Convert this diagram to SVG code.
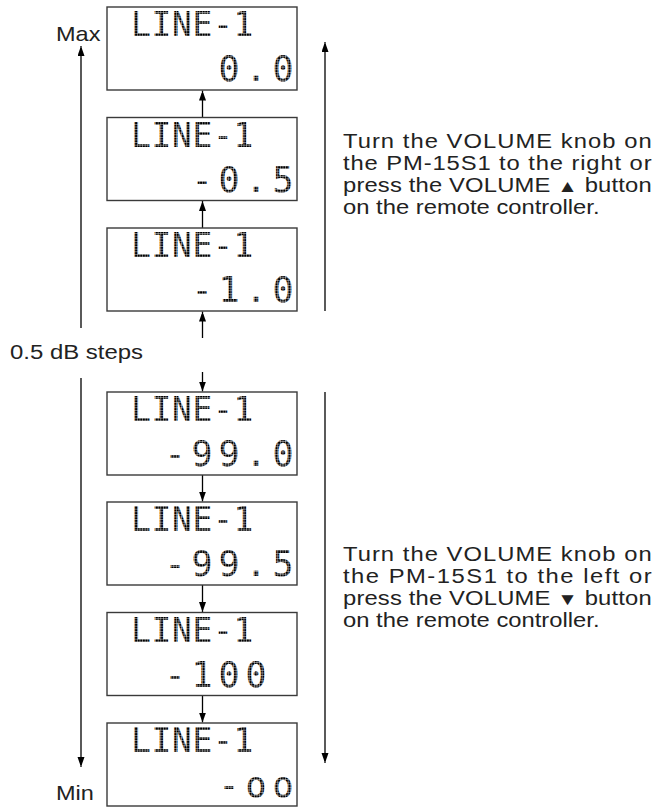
<svg xmlns="http://www.w3.org/2000/svg" width="655" height="807" viewBox="0 0 655 807">
<defs>
<marker id="ah" markerUnits="userSpaceOnUse" markerWidth="8" markerHeight="11" refX="10" refY="3.5" orient="auto">
<path d="M0,0 L10,3.5 L0,7 Z" fill="#000"/>
</marker>
<pattern id="dots" patternUnits="userSpaceOnUse" width="2.6" height="2.6">
<rect width="2.2" height="2.2" fill="#000"/>
</pattern>
<style>
.box{fill:#fff;stroke:#3a3a3a;stroke-width:1.4}
.lcd1{font-family:"DejaVu Sans Mono","Liberation Mono",monospace;font-size:33px;fill:url(#dots);text-anchor:middle}
.lcd2{font-family:"DejaVu Sans Mono","Liberation Mono",monospace;font-size:35px;fill:url(#dots);text-anchor:middle}
.lbl{font-family:"Liberation Sans",Arial,sans-serif;font-size:21px;fill:#222}
.note{font-family:"Liberation Sans",Arial,sans-serif;font-size:19.5px;fill:#222}
.arr{stroke:#000;stroke-width:1.3;fill:none;marker-end:url(#ah)}
</style>
</defs>
<rect width="655" height="807" fill="#fff"/>

<g id="connectors">
<line class="arr" x1="202.5" y1="117.5" x2="202.5" y2="90.5"/>
<line class="arr" x1="202.5" y1="228" x2="202.5" y2="201"/>
<line class="arr" x1="202.5" y1="338" x2="202.5" y2="311.5"/>
<line class="arr" x1="202.5" y1="372" x2="202.5" y2="391.5"/>
<line class="arr" x1="202.5" y1="475" x2="202.5" y2="501.5"/>
<line class="arr" x1="202.5" y1="585" x2="202.5" y2="612"/>
<line class="arr" x1="202.5" y1="695" x2="202.5" y2="722.5"/>
<line class="arr" x1="81" y1="328" x2="81" y2="46"/>
<line class="arr" x1="81" y1="378" x2="81" y2="767"/>
<line class="arr" x1="325" y1="311" x2="325" y2="42"/>
<line class="arr" x1="325" y1="392" x2="325" y2="763"/>
</g>

<g id="box1">
<rect class="box" x="107" y="7" width="190" height="83"/>
<text class="lcd1" x="141 161.5 182 202.5 223 243.5" y="36">LINE-1</text>
<text class="lcd2" x="229 256 283" y="81">0.0</text>
</g>
<g id="box2">
<rect class="box" x="107" y="117.5" width="190" height="83"/>
<text class="lcd1" x="141 161.5 182 202.5 223 243.5" y="146.5">LINE-1</text>
<text class="lcd2" x="202 229 256 283" y="191.5">-0.5</text>
</g>
<g id="box3">
<rect class="box" x="107" y="228" width="190" height="83"/>
<text class="lcd1" x="141 161.5 182 202.5 223 243.5" y="257">LINE-1</text>
<text class="lcd2" x="202 229 256 283" y="302">-1.0</text>
</g>
<g id="box4">
<rect class="box" x="107" y="392" width="190" height="83"/>
<text class="lcd1" x="141 161.5 182 202.5 223 243.5" y="421">LINE-1</text>
<text class="lcd2" x="175 202 229 256 283" y="466">-99.0</text>
</g>
<g id="box5">
<rect class="box" x="107" y="502" width="190" height="83"/>
<text class="lcd1" x="141 161.5 182 202.5 223 243.5" y="531">LINE-1</text>
<text class="lcd2" x="175 202 229 256 283" y="576">-99.5</text>
</g>
<g id="box6">
<rect class="box" x="107" y="612.5" width="190" height="83"/>
<text class="lcd1" x="141 161.5 182 202.5 223 243.5" y="641.5">LINE-1</text>
<text class="lcd2" x="175 202 229 256" y="686.5">-100</text>
</g>
<g id="box7">
<rect class="box" x="107" y="723" width="190" height="83"/>
<text class="lcd1" x="141 161.5 182 202.5 223 243.5" y="752">LINE-1</text>
<text class="lcd2" x="229 256 283" y="797">-oo</text>
</g>

<g id="labels">
<text class="lbl" transform="translate(56,41) scale(1.12,1)">Max</text>
<text class="lbl" transform="translate(56,800) scale(1.12,1)">Min</text>
<text class="lbl" transform="translate(10,359) scale(1.14,1)">0.5 dB steps</text>
</g>

<g id="note-up" transform="translate(343,0) scale(1.22,1)">
<text class="note" x="0" y="148" textLength="253" lengthAdjust="spacing">Turn the VOLUME knob on</text>
<text class="note" x="0" y="170" textLength="253" lengthAdjust="spacing">the PM-15S1 to the right or</text>
<text class="note" x="0" y="192" textLength="253" lengthAdjust="spacing">press the VOLUME <tspan font-size="17">▲</tspan> button</text>
<text class="note" x="0" y="214">on the remote controller.</text>
</g>
<g id="note-down" transform="translate(343,0) scale(1.22,1)">
<text class="note" x="0" y="561" textLength="253" lengthAdjust="spacing">Turn the VOLUME knob on</text>
<text class="note" x="0" y="583" textLength="253" lengthAdjust="spacing">the PM-15S1 to the left or</text>
<text class="note" x="0" y="605" textLength="253" lengthAdjust="spacing">press the VOLUME <tspan font-size="17">▼</tspan> button</text>
<text class="note" x="0" y="627">on the remote controller.</text>
</g>
</svg>
